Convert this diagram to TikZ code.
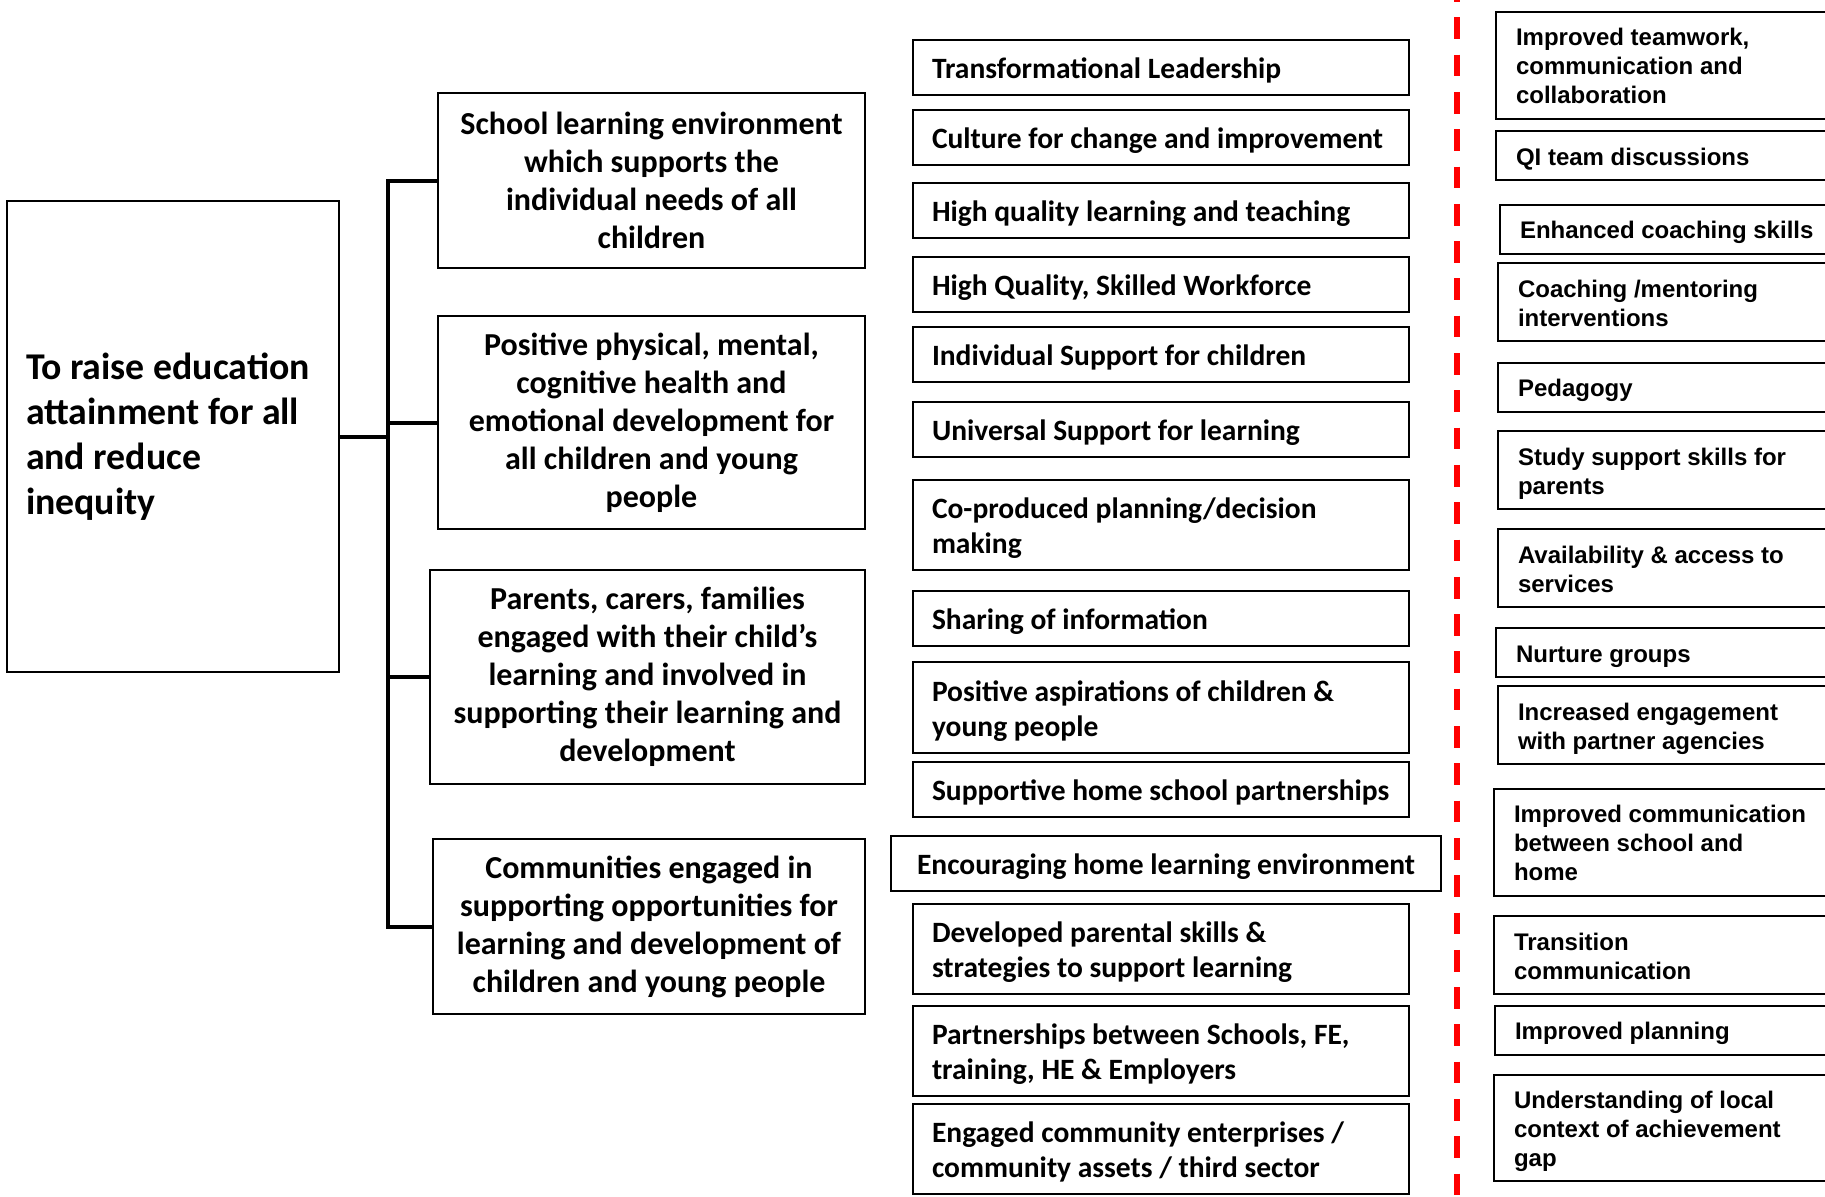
\documentclass[tikz,border=0pt]{standalone}
\usepackage{fontspec}
\setmainfont{Carlito}
\newfontfamily\arialfont{Liberation Sans}
\usetikzlibrary{shapes,arrows}
\newcommand{\nativespace}{\spaceskip=0pt\xspaceskip=0pt\relax}
\newcommand{\topstrut}[1]{\nativespace\rule{0pt}{#1}}
\newcommand{\basestrut}{\rule[-0.25em]{0pt}{0.25em}}
\tikzstyle{goal} = [rectangle, draw, line width=1pt, text width=147pt, inner xsep=9.5pt, align=left,
    minimum height=235.5pt, font=\fontsize{18.9pt}{22.5pt}\selectfont\bfseries, execute at begin node=\nativespace]
\tikzstyle{driver} = [rectangle, draw, line width=1pt, align=center, font=\fontsize{16pt}{19pt}\selectfont\bfseries]
\tikzstyle{change} = [rectangle, draw, line width=1pt, text width=232pt, inner xsep=8pt, align=left,
    minimum height=27.5pt, font=\fontsize{14.75pt}{17.5pt}\selectfont\bfseries,
    execute at begin node={\leftskip=1.5pt\topstrut{1em}}, execute at end node=\basestrut]
\tikzstyle{idea} = [rectangle, draw, line width=1pt, anchor=west, text width=200pt, inner xsep=10pt, align=left,
    minimum height=24.5pt, font=\arialfont\fontsize{12pt}{14.4pt}\selectfont\bfseries,
    execute at begin node=\topstrut{1.05em}, execute at end node=\basestrut]
\tikzstyle{line} = [draw, line width=2pt]
\tikzstyle{divider} = [draw=red, line width=3pt, dash pattern=on 10.85pt off 7.8pt]

\begin{document}
\begin{tikzpicture}[x=0.5pt,y=-0.5pt]
    \useasboundingbox (0,0) rectangle (1825,1196);

      % aim and primary drivers
      \node [goal] (goal) at (173,436.5) {To raise education\\attainment for all\\and reduce\\inequity};
      \node [driver, minimum width=213.5pt, minimum height=87.5pt] (school) at (651.5,180.5) {School learning environment\\which supports the\\individual needs of all\\children};
      \node [driver, minimum width=213.5pt, minimum height=106.5pt] (health) at (651.5,422.5) {Positive physical, mental,\\cognitive health and\\emotional development for\\all children and young\\people};
      \node [driver, minimum width=217.5pt, minimum height=107pt] (parents) at (647.5,677) {Parents, carers, families\\engaged with their child’s\\learning and involved in\\supporting their learning and\\development};
      \node [driver, minimum width=216pt, minimum height=87.5pt] (community) at (649,926.5) {Communities engaged in\\supporting opportunities for\\learning and development of\\children and young people};

      \coordinate (spine) at (388,0);
      \path [line] (goal.east) -- (goal.east -| spine);
      \path [line] (school.west) -- (school.west -| spine) -- (community.west -| spine) -- (community.west);
      \path [line] (health.west) -- (health.west -| spine);
      \path [line] (parents.west) -- (parents.west -| spine);

      % secondary drivers
      \node [change] (lead) at (1161,67) {Transformational Leadership};
      \node [change] (culture) at (1161,137.5) {Culture for change and improvement};
      \node [change] (teach) at (1161,210.5) {High quality learning and teaching};
      \node [change] (staff) at (1161,284) {High Quality, Skilled Workforce};
      \node [change] (indiv) at (1161,354.5) {Individual Support for children};
      \node [change] (univ) at (1161,429) {Universal Support for learning};
      \node [change, minimum height=45pt] (coprod) at (1161,525) {Co-produced planning/decision\\making};
      \node [change] (share) at (1161,618.5) {Sharing of information};
      \node [change, minimum height=45.5pt] (aspire) at (1161,707.5) {Positive aspirations of children \&\\young people};
      \node [change] (homesch) at (1161,789.5) {Supportive home school partnerships};
      \node [change, text width=259pt, execute at begin node={\leftskip=5pt\topstrut{1em}}] (homelearn) at (1166,863.5) {Encouraging home learning environment};
      \node [change, minimum height=45pt] (parental) at (1161,949) {Developed parental skills \&\\strategies to support learning};
      \node [change, minimum height=45pt] (partner) at (1161,1051) {Partnerships between Schools, FE,\\training, HE \& Employers};
      \node [change, minimum height=45pt] (enterp) at (1161,1149) {Engaged community enterprises /\\community assets / third sector};

      \coordinate (cut top) at (1457,-20);
      \coordinate (cut bottom) at (1457,1216);
      \path [divider] (cut top) -- (cut bottom);

      % change ideas
      \node [idea, minimum height=53.5pt] (teamwork) at (1495,65) {Improved teamwork,\\communication and\\collaboration};
      \node [idea] (qi) at (1495,155.5) {QI team discussions};
      \node [idea] (coach) at (1499,229) {Enhanced coaching skills};
      \node [idea, minimum height=39pt] (mentor) at (1497,302) {Coaching /mentoring\\interventions};
      \node [idea] (pedagogy) at (1497,387) {Pedagogy};
      \node [idea, minimum height=39pt] (study) at (1497,470) {Study support skills for\\parents};
      \node [idea, minimum height=39pt] (access) at (1497,568) {Availability \& access to\\services};
      \node [idea] (nurture) at (1495,652.5) {Nurture groups};
      \node [idea, minimum height=39pt] (agency) at (1497,725) {Increased engagement\\with partner agencies};
      \node [idea, minimum height=53.5pt] (commhome) at (1493,842) {Improved communication\\between school and\\home};
      \node [idea, minimum height=39pt] (transit) at (1493,955) {Transition\\communication};
      \node [idea] (plan) at (1494,1030) {Improved planning};
      \node [idea, minimum height=53pt] (local) at (1493,1128) {Understanding of local\\context of achievement\\gap};

\end{tikzpicture}
\end{document}
